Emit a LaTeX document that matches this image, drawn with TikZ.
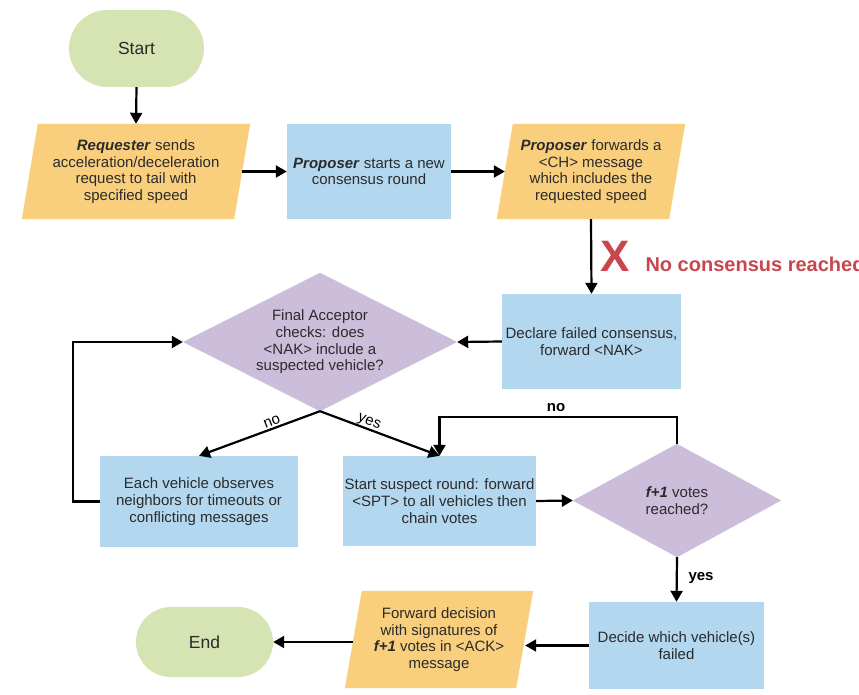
\documentclass[tikz,border=0pt]{standalone}
\usepackage{fontspec}
\setmainfont{Liberation Sans}
\usetikzlibrary{shapes.misc,arrows.meta,backgrounds}

\definecolor{termfill}{HTML}{D6E3B2}
\definecolor{iofill}{HTML}{F9CF7E}
\definecolor{procfill}{HTML}{B3D7EE}
\definecolor{decfill}{HTML}{CCBEDA}
\definecolor{inktext}{HTML}{2B2B2B}
\definecolor{alertred}{HTML}{C9464C}

\tikzset{
  base/.style={inner sep=0pt, align=center, text=inktext,
    font=\fontsize{15}{16.7}\selectfont},
  terminal/.style={base, rounded rectangle, fill=termfill,
    font=\fontsize{17.5}{19}\selectfont},
  process/.style={base, rectangle, fill=procfill},
  iobox/.style={base, rectangle},
  decision/.style={base, rectangle},
  arr/.style={line width=2.2pt, -{Triangle[length=11pt,width=12pt]}},
  lbl/.style={text=black, font=\fontsize{15}{17}\selectfont},
  boldlbl/.style={lbl, font=\bfseries\fontsize{15}{17}\selectfont}
}

% fill a slanted (input/output) shape behind a rectangular node
\newcommand\slantfill[2]{%
  \fill[iofill] ([xshift=#2]#1.north west) -- (#1.north east)
    -- ([xshift=-#2]#1.south east) -- (#1.south west) -- cycle;}
% fill a rhombus through the side midpoints of a rectangular node
\newcommand\rhombfill[1]{%
  \fill[decfill] (#1.north) -- (#1.east) -- (#1.south) -- (#1.west) -- cycle;}

\begin{document}
\begin{tikzpicture}[x=1pt,y=-1pt]
\useasboundingbox (0,0) rectangle (859,695);

% ---- nodes ----
\node[terminal, minimum width=135, minimum height=77] (start) at (136.5,48.5) {Start};

\node[iobox, minimum width=228, minimum height=95] (req) at (136,171.5)
  {\textbf{\textit{Requester}} sends\\acceleration/deceleration\\request to tail with\\specified speed};

\node[process, minimum width=164, minimum height=95] (prop) at (369,171.5)
  {\textbf{\textit{Proposer}} starts a new\\consensus round};

\node[iobox, minimum width=188, minimum height=95] (fwd) at (591,171.5)
  {\textbf{\textit{Proposer}} forwards a\\<CH> message\\which includes the\\requested speed};

\node[process, minimum width=179, minimum height=95] (decl) at (591.5,341.5)
  {Declare failed consensus,\\forward <NAK>};

\node[decision, minimum width=274, minimum height=138] (fa) at (320,342)
  {Final Acceptor\\checks: does\\<NAK> include a\\suspected vehicle?};

\node[process, minimum width=198, minimum height=91] (each) at (199,501.5)
  {Each vehicle observes\\neighbors for timeouts or\\conflicting messages};

\node[process, minimum width=193, minimum height=90] (sus) at (439.5,501)
  {Start suspect round: forward\\<SPT> to all vehicles then\\chain votes};

\node[decision, minimum width=208, minimum height=113] (f1) at (677,500.5)
  {\textbf{\textit{f+1}} votes\\reached?};

\node[process, minimum width=175, minimum height=87] (dec) at (676.5,645.5)
  {Decide which vehicle(s)\\failed};

\node[iobox, minimum width=188, minimum height=97] (fwd2) at (439,639.5)
  {Forward decision\\with signatures of\\\textbf{\textit{f+1}} votes in <ACK>\\message};

\node[terminal, minimum width=137, minimum height=70] (end) at (204.5,642) {End};

\begin{pgfonlayer}{background}
  \slantfill{req}{16}
  \slantfill{fwd}{16}
  \slantfill{fwd2}{17}
  \rhombfill{fa}
  \rhombfill{f1}
\end{pgfonlayer}

% ---- failure annotation ----
\node[text=alertred, font=\bfseries\fontsize{44}{44}\selectfont] (xmark) at (615,256) {X};
\node[anchor=west, text=alertred, font=\bfseries\fontsize{20}{22}\selectfont] (nocons) at (642,264) {No consensus reached};

% ---- connectors ----
\draw[arr] (start.south) -- (req.north);
\draw[arr] ([xshift=-8]req.east) -- (prop.west);
\draw[arr] (prop.east) -- ([xshift=8]fwd.west);
\draw[arr] (fwd.south) -- (decl.north);
\draw[arr] (decl.west) -- (fa.east);
\draw[arr] (fa.south) -- (each.north);
\draw[arr] (fa.south) -- (sus.north);
\draw[arr] (each.west) -- ++(-27,0) |- (fa.west);
\draw[arr] (sus.east) -- (f1.west);
\draw[arr] (f1.north) -- ++(0,-27) -| (sus.north);
\draw[arr] (f1.south) -- (dec.north);
\draw[arr] (dec.west) -- ([xshift=-8]fwd2.east |- dec.west);
\draw[arr] ([xshift=8]fwd2.west |- end.east) -- (end.east);

% ---- branch labels ----
\node[lbl, rotate=21] (lblno) at (272,421.5) {no};
\node[lbl, rotate=-21] (lblyes) at (369,422.5) {yes};
\node[boldlbl] (lblno2) at (556,408) {no};
\node[boldlbl, anchor=west] (lblyes2) at (685,578) {yes};

\end{tikzpicture}
\end{document}
